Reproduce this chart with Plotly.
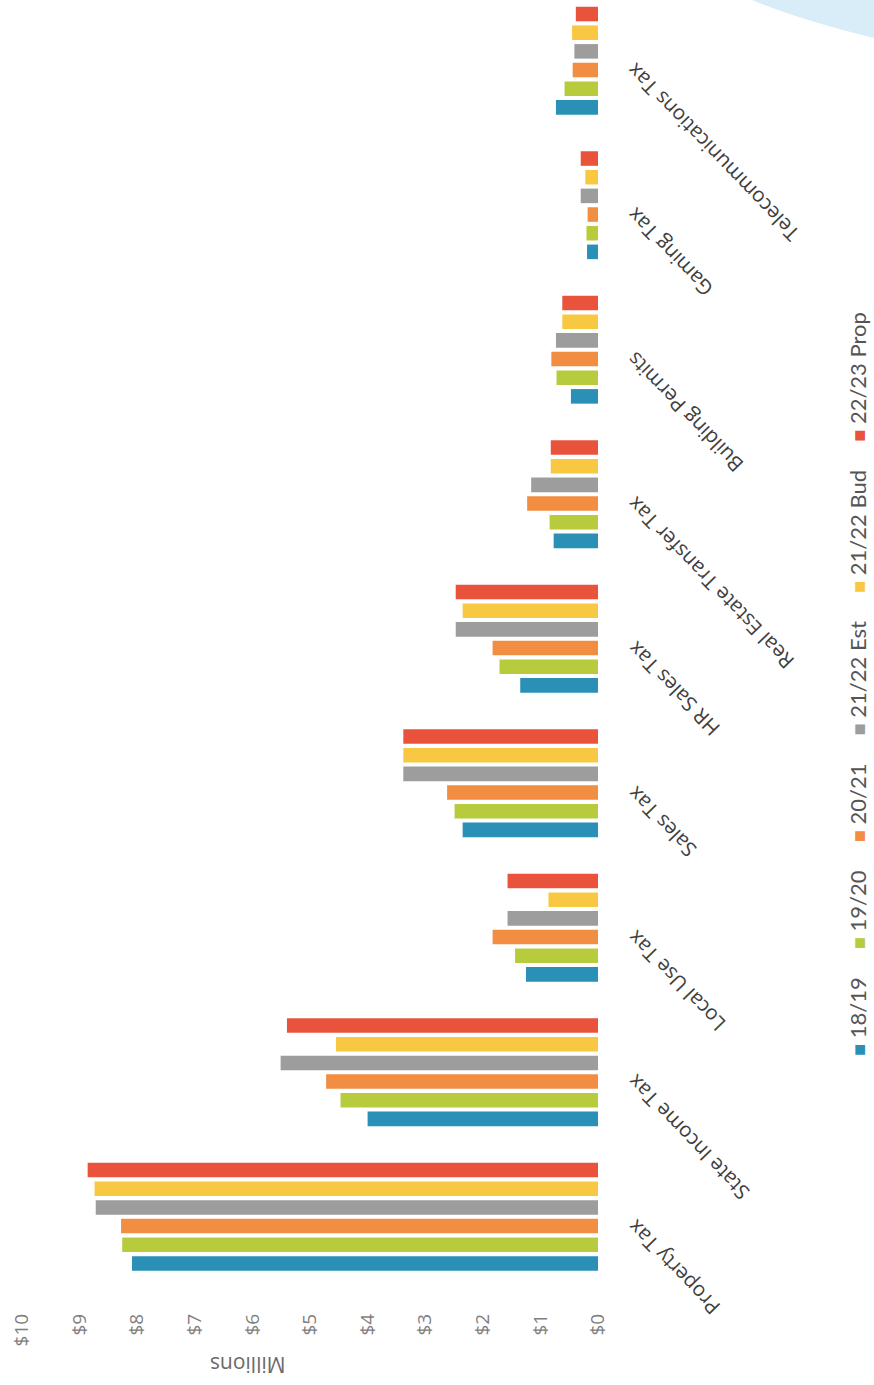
import plotly.graph_objects as go

# Revenue by source, in millions of dollars
categories = [
    "Property Tax", "State Income Tax", "Local Use Tax", "Sales Tax",
    "HR Sales Tax", "Real Estate Transfer Tax", "Building Permits",
    "Gaming Tax", "Telecommunications Tax",
]
series_names = ["18/19", "19/20", "20/21", "21/22 Est", "21/22 Bud", "22/23 Prop"]
fy1819 = [8.09, 4.00, 1.25, 2.35, 1.35, 0.77, 0.47, 0.19, 0.73]
fy1920 = [8.26, 4.47, 1.44, 2.49, 1.71, 0.84, 0.72, 0.20, 0.58]
fy2021 = [8.28, 4.72, 1.83, 2.62, 1.83, 1.23, 0.81, 0.18, 0.44]
fy2122_est = [8.72, 5.51, 1.57, 3.38, 2.47, 1.16, 0.73, 0.30, 0.41]
fy2122_bud = [8.74, 4.55, 0.86, 3.38, 2.35, 0.82, 0.62, 0.22, 0.45]
fy2223_prop = [8.86, 5.40, 1.57, 3.38, 2.47, 0.82, 0.62, 0.30, 0.385]
series_values = [fy1819, fy1920, fy2021, fy2122_est, fy2122_bud, fy2223_prop]
colors = ["#2a90b5", "#b7cb3c", "#f18e42", "#9d9d9d", "#f8c843", "#e9533c"]

tick_vals = list(range(0, 11))
tick_text = [f"${v}" for v in tick_vals]

W, H = 874, 1385
M_L, M_R, M_T, M_B = 22, 276, 0, 96
PW, PH = W - M_L - M_R, H - M_T - M_B


def px_x(px):
    return (px - M_L) / PW


def px_y(py):
    return (H - M_B - py) / PH


fig = go.Figure()
for name, vals, col in zip(series_names, series_values, colors):
    fig.add_trace(go.Bar(
        y=list(range(len(categories))), x=vals, name=name, orientation="h",
        marker=dict(color=col, line=dict(width=0)),
        showlegend=False,
    ))

annotations = []
# category labels, turned so they read up and to the left
for i, cat in enumerate(categories):
    annotations.append(dict(
        text=cat, xref="paper", yref="y", x=1, y=i, xshift=20, yshift=6,
        xanchor="left", yanchor="top", textangle=-134, showarrow=False,
        font=dict(family="Open Sans", size=20.5, color="#3f3f3f"),
    ))

# axis title, upside down under the value ticks
annotations.append(dict(
    text="Millions", xref="x", yref="paper", x=6.08, y=px_y(1365),
    xanchor="center", yanchor="middle", textangle=180, showarrow=False,
    font=dict(family="Open Sans", size=21, color="#6a6a6a"),
))

# legend as one rotated line of swatches and names
gap = "\u00a0" * 5
parts = []
for name, col in zip(series_names, colors):
    parts.append(f"<span style='color:{col};font-size:20px'>■</span>\u00a0{name}")
legend_text = gap.join(parts)
annotations.append(dict(
    text=legend_text, xref="paper", yref="paper", x=px_x(857), y=px_y(684),
    xanchor="center", yanchor="middle", textangle=-90, showarrow=False,
    font=dict(family="Lato", size=22, color="#555555"),
))

shapes = [dict(
    type="path", xref="paper", yref="paper", layer="below",
    path=(f"M {px_x(752)} {px_y(0)} Q {px_x(800)} {px_y(20)} {px_x(874)} {px_y(38)} "
          f"L {px_x(874)} {px_y(0)} Z"),
    fillcolor="#d8edf8", line=dict(width=0),
)]

fig.update_layout(
    width=W, height=H, barmode="group", bargap=0.225, bargroupgap=0.22,
    margin=dict(l=M_L, r=M_R, t=M_T, b=M_B),
    paper_bgcolor="white", plot_bgcolor="white",
    annotations=annotations, shapes=shapes,
    xaxis=dict(
        range=[10, 0], tickvals=tick_vals, ticktext=tick_text, tickangle=-90,
        showgrid=False, zeroline=False, showline=False, ticks="",
        ticklabelstandoff=20,
        tickfont=dict(family="Open Sans", size=19, color="#7f7f7f"),
    ),
    yaxis=dict(
        range=[-0.5, 8.42], showticklabels=False, showgrid=False,
        zeroline=False, showline=False, ticks="",
    ),
)

fig.write_html("out.html")
